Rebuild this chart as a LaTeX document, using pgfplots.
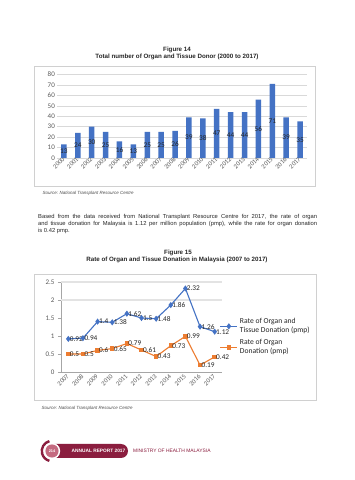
\documentclass[border=0pt]{standalone}
\usepackage{fontspec}
\setmainfont{Liberation Sans}
\newfontfamily\calibri{Carlito}
\usepackage{pgfplots}
\usepackage{pgfplotstable}
\pgfplotsset{compat=1.18}
\definecolor{xblue}{HTML}{4472C4}
\definecolor{xorange}{HTML}{ED7D31}
\definecolor{xgrid}{HTML}{D9D9D9}
\definecolor{xtext}{HTML}{595959}
\definecolor{xframe}{HTML}{D0D0D0}
\definecolor{maroon}{HTML}{8B1E3F}
\definecolor{pinkc}{HTML}{C46A80}
\pgfplotstableread{
x year v
0 2000 13
1 2001 24
2 2002 30
3 2003 25
4 2004 16
5 2005 13
6 2006 25
7 2007 25
8 2008 26
9 2009 39
10 2010 38
11 2011 47
12 2012 44
13 2013 44
14 2014 56
15 2015 71
16 2016 39
17 2017 35
}\donors
\pgfplotstableread{
x year r rl o ol
0 2007 0.92 0.92 0.50 0.5
1 2008 0.94 0.94 0.50 0.5
2 2009 1.40 1.4 0.60 0.6
3 2010 1.38 1.38 0.65 0.65
4 2011 1.62 1.62 0.79 0.79
5 2012 1.50 1.5 0.61 0.61
6 2013 1.48 1.48 0.43 0.43
7 2014 1.86 1.86 0.73 0.73
8 2015 2.32 2.32 0.99 0.99
9 2016 1.26 1.26 0.19 0.19
10 2017 1.12 1.12 0.42 0.42
}\rates
\newcommand\cf{\calibri\fontsize{7}{8}\selectfont}
\newcommand\cfx{\calibri\fontsize{6.5}{7}\selectfont}
\newcommand\tf{\bfseries\fontsize{6.2}{7}\selectfont}
\begin{document}
\begin{tikzpicture}[x=1pt,y=1pt]
\path[use as bounding box, fill=white] (0,0) rectangle (355,480);
% ---- Figure 14 titles
\node[anchor=base, font=\tf, text=black!85] at (177,428.5) {Figure 14};
\node[anchor=base, font=\tf, text=black!85] at (177,421.5) {Total number of Organ and Tissue Donor (2000 to 2017)};
\draw[xframe, line width=0.6pt] (34,294) rectangle (315,414);
\begin{axis}[at={(57pt,322pt)}, anchor=south west, scale only axis,
  width=250pt, height=83.5pt,
  xmin=-0.5, xmax=17.5, ymin=0, ymax=80,
  ytick={0,10,...,80}, xtick={0,...,17},
  xticklabels from table={\donors}{year},
  axis x line*=bottom, axis y line*=left,
  x axis line style={draw=xgrid, line width=0.6pt},
  y axis line style={draw=none},
  tick style={draw=none},
  ymajorgrids, grid style={xgrid, line width=0.6pt},
  ticklabel style={font=\cf, text=xtext},
  /pgf/number format/assume math mode=true,
  x tick label style={rotate=45, anchor=east, inner sep=0.5pt, font=\cfx},
  yticklabel style={inner sep=2pt},
  clip=false]
\addplot[ybar, bar width=5.5pt, fill=xblue, draw=none] table[x=x,y=v]{\donors};
\addplot[draw=none, mark=none, nodes near coords, point meta=explicit,
  nodes near coords align=center,
  every node near coord/.append style={font=\calibri\fontsize{7.3}{8}\selectfont, text=black!85, inner sep=0pt, anchor=center}]
  table[x=x, y expr=\thisrow{v}/2, meta=v]{\donors};
\end{axis}
\node[anchor=base west, font=\itshape\fontsize{4.5}{5}\selectfont, text=black!70] at (39,285) {Source: National Transplant Resource Centre};
% ---- paragraph
\begin{scope}[every node/.style={anchor=base west, inner sep=0pt, font=\fontsize{5.8}{7}\selectfont, text=black!85}]
\node at (38,261) {\makebox[279pt][s]{Based from the data received from National Transplant Resource Centre for 2017, the rate of organ}};
\node at (38,254) {\makebox[279pt][s]{and tissue donation for Malaysia is 1.12 per million population (pmp), while the rate for organ donation}};
\node at (38,247) {is 0.42 pmp.};
\end{scope}
% ---- Figure 15 titles
\node[anchor=base, font=\tf, text=black!85] at (178,225) {Figure 15};
\node[anchor=base, font=\tf, text=black!85] at (177,218) {Rate of Organ and Tissue Donation in Malaysia (2007 to 2017)};
\draw[xframe, line width=0.6pt] (34,80) rectangle (316,206);
\begin{axis}[at={(61pt,108pt)}, anchor=south west, scale only axis,
  width=161pt, height=90pt,
  xmin=-0.5, xmax=10.5, ymin=0, ymax=2.5,
  ytick={0,0.5,...,2.5}, xtick={0,...,10},
  xticklabels from table={\rates}{year},
  axis x line*=bottom, axis y line*=left,
  axis line style={draw=gray!70, line width=0.5pt},
  xtick style={draw=none},
  ytick style={draw=gray!70, line width=0.5pt},
  tick align=outside, major tick length=3pt,
  extra x ticks={-0.5,0.5,...,10.5}, extra x tick labels={},
  extra x tick style={major tick length=3pt, tick style={draw=gray!70, line width=0.5pt}},
  ticklabel style={font=\cf, text=xtext},
  /pgf/number format/assume math mode=true,
  x tick label style={rotate=45, anchor=east, inner sep=0.5pt, font=\cfx},
  legend style={at={(0.985,0.39)}, anchor=west, draw=none, fill=none,
    font=\calibri\fontsize{7.6}{9}\selectfont, text=black!85, cells={align=left},
    row sep=1.5pt, inner sep=0pt},
  legend cell align=left,
  clip=false]
\draw[gray!22, line width=1.1pt] (axis cs:-0.5,2) -- (axis cs:10.5,2);
\draw[gray!22, line width=1.1pt] (axis cs:-0.5,2.5) -- (axis cs:10.5,2.5);
\addplot[xblue, line width=1.1pt, mark=diamond*, mark size=2.2pt, mark options={fill=xblue},
  nodes near coords, point meta=explicit symbolic,
  every node near coord/.append style={anchor=west, font=\calibri\fontsize{7.3}{8}\selectfont, text=black!85, inner sep=1pt}]
  table[x=x, y=r, meta=rl]{\rates};
\addlegendentry{Rate of Organ and\\Tissue Donation (pmp)}
\addplot[xorange, line width=1.1pt, mark=square*, mark size=1.7pt, mark options={fill=xorange},
  nodes near coords, point meta=explicit symbolic,
  every node near coord/.append style={anchor=west, font=\calibri\fontsize{7.3}{8}\selectfont, text=black!85, inner sep=1pt}]
  table[x=x, y=o, meta=ol]{\rates};
\addlegendentry{Rate of Organ\\Donation (pmp)}
\end{axis}
\node[anchor=base west, font=\itshape\fontsize{4.5}{5}\selectfont, text=black!70] at (38,70) {Source: National Transplant Resource Centre};
% ---- footer
\fill[maroon, rounded corners=7pt] (46,22) rectangle (128,36);
\fill[white] (52,29) circle (8.2);
\fill[pinkc] (52,29) circle (6.6);
\draw[maroon, line width=2.4pt] (52,29) ++(105:10.2) arc (105:255:10.2);
\node[font=\bfseries\fontsize{3.8}{4}\selectfont, text=white] at (52,29) {214};
\node[anchor=center, font=\bfseries\fontsize{4.8}{5}\selectfont, text=white] at (98.5,29) {ANNUAL REPORT 2017};
\node[anchor=west, inner sep=0pt, font=\fontsize{4.9}{5}\selectfont, text=maroon] at (133,29) {MINISTRY OF HEALTH MALAYSIA};
\end{tikzpicture}
\end{document}
